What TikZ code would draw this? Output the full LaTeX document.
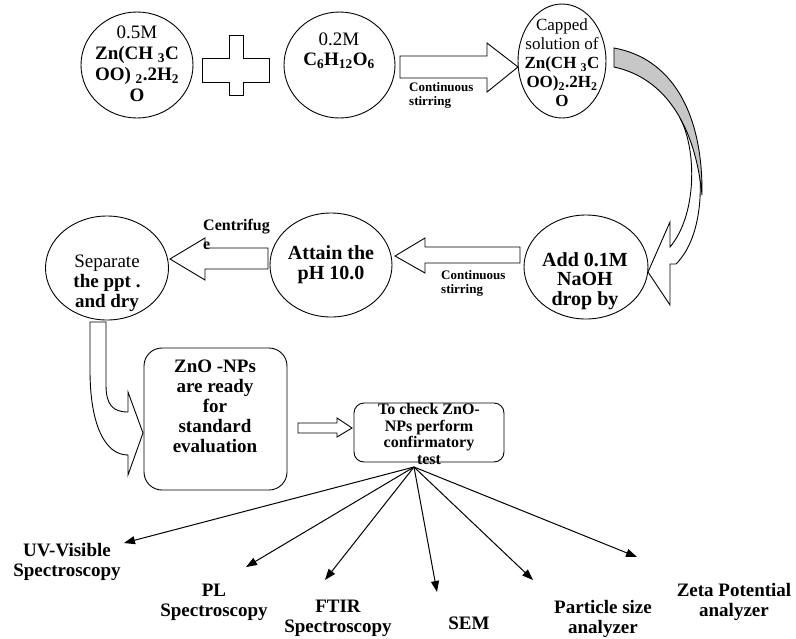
\documentclass[tikz,border=0pt]{standalone}
\usepackage{fontspec}
\setmainfont{Liberation Serif}
\usetikzlibrary{shapes.geometric, arrows.meta}
\begin{document}
\begin{tikzpicture}[x=1pt,y=-1pt,
  bubble/.style={ellipse, draw, line width=0.9pt, inner sep=0pt},
  roundbox/.style={draw, line width=0.9pt, inner sep=0pt},
  blockarrow/.style={draw, fill=white, line width=0.9pt, line join=miter},
  grayface/.style={draw, fill=black!22, line width=0.9pt},
  txtA/.style={align=center, inner sep=0pt, font=\fontsize{19}{21}\selectfont},
  txtB/.style={align=center, inner sep=0pt, font=\fontsize{17}{19}\selectfont},
  txtC/.style={align=center, inner sep=0pt, font=\bfseries\fontsize{20}{19.5}\selectfont},
  txtD/.style={align=center, inner sep=0pt, font=\bfseries\fontsize{16}{16.5}\selectfont},
  small/.style={align=left, inner sep=0pt, font=\bfseries\fontsize{13}{14}\selectfont},
  lab/.style={align=center, inner sep=0pt, font=\bfseries\fontsize{19}{20}\selectfont},
  fanarrow/.style={-{Triangle[length=11pt,width=8pt]}, line width=1pt}
]
\path[use as bounding box, fill=white] (0,0) rectangle (796,638);

% ---------- row 1 ----------
\node[bubble, minimum width=112pt, minimum height=106pt] (c1) at (137,65) {};
\node[txtA] (t1) at (137,64) {0.5M\\\textbf{Zn(CH \textsubscript{3}C}\\\textbf{OO) \textsubscript{2}.2H\textsubscript{2}}\\\textbf{O}};

\draw[blockarrow] (229,35) -- (243,35) -- (243,58) -- (269,58) -- (269,82) -- (243,82) -- (243,95)
  -- (229,95) -- (229,82) -- (202,82) -- (202,58) -- (229,58) -- cycle;

\node[bubble, minimum width=111pt, minimum height=106pt] (c2) at (339.5,65) {};
\node[txtA, font=\fontsize{19}{20}\selectfont] (t2) at (339,51) {0.2M\\\textbf{C\textsubscript{6}H\textsubscript{12}O\textsubscript{6}}};

\draw[blockarrow] (400,56) -- (487,56) -- (487,43) -- (518,67) -- (487,92) -- (487,78) -- (400,78) -- cycle;
\node[small, anchor=west] (s1) at (409,95) {Continuous\\stirring};

\node[bubble, minimum width=88pt, minimum height=114pt] (c3) at (562,61) {};
\node[txtB] (t3) at (562,63) {Capped\\solution of\\\textbf{Zn(CH \textsubscript{3}C}\\\textbf{OO)\textsubscript{2}.2H\textsubscript{2}}\\\textbf{O}};

% ---------- curved gray arrow ----------
\path[fill=white] (695,140) .. controls (706,190) and (700,240) .. (676,264) -- (670,264) -- (670,305)
  -- (648,272) -- (670,222) -- (670,247) .. controls (697,215) and (697,150) .. (680,118) -- cycle;
\draw[line width=0.9pt, line join=miter] (695,140) .. controls (706,190) and (700,240) .. (676,264) -- (670,264) -- (670,305)
  -- (648,272) -- (670,222) -- (670,247) .. controls (697,215) and (697,150) .. (680,118);
\draw[grayface] (614,48) .. controls (670,58) and (703,110) .. (702,195)
  .. controls (695,125) and (665,78) .. (614,67) -- cycle;

% ---------- row 2 ----------
\node[bubble, minimum width=124pt, minimum height=104pt] (c4) at (586,267) {};
\node[txtC] (t4) at (585,281) {Add 0.1M\\NaOH\\drop by};

\draw[blockarrow] (520,247) -- (425,247) -- (425,238) -- (395,256) -- (425,273) -- (425,263) -- (520,263) -- cycle;
\node[small, anchor=west] (s2) at (441,283) {Continuous\\stirring};

\node[bubble, minimum width=122pt, minimum height=104pt] (c5) at (331,265) {};
\node[txtC, font=\bfseries\fontsize{20}{20}\selectfont] (t5) at (331,265) {Attain the\\pH 10.0};

\draw[blockarrow] (268,248) -- (205,248) -- (205,238) -- (170,259) -- (205,280) -- (205,269) -- (268,269) -- cycle;
\node[small, font=\bfseries\fontsize{16}{19}\selectfont, anchor=west] (s3) at (203,234) {Centrifug\\e};

\node[bubble, minimum width=123pt, minimum height=104pt] (c6) at (107,268) {};
\node[txtA, font=\fontsize{19}{20}\selectfont] (t6) at (107,283) {Separate\\\textbf{the ppt .}\\\textbf{and dry}};

% ---------- U-turn arrow ----------
\draw[blockarrow] (90,322) -- (106,322) -- (106,385) .. controls (106,405) and (113,412) .. (128,412)
  -- (128,392) -- (143,433) -- (128,475) -- (128,455) .. controls (105,455) and (90,425) .. (90,370) -- cycle;

% ---------- row 3 ----------
\node[roundbox, rounded corners=18pt, minimum width=143pt, minimum height=142pt] (zno) at (215.5,419) {};
\node[lab] (t7) at (215,406) {ZnO -NPs\\are ready\\for\\standard\\evaluation};

\draw[blockarrow] (298,423) -- (337,423) -- (337,418) -- (352,428) -- (337,437) -- (337,433) -- (298,433) -- cycle;

\node[roundbox, rounded corners=10pt, minimum width=150pt, minimum height=59pt] (chk) at (429,432.5) {};
\node[txtD] (t8) at (429,434) {To check ZnO-\\NPs perform\\confirmatory\\test};

% ---------- fan ----------
\coordinate (fan) at (414,467);
\coordinate (uvtip) at (124,543);
\coordinate (pltip) at (246,567);
\coordinate (fttip) at (325,580);
\coordinate (setip) at (437,592);
\coordinate (pstip) at (533,580);
\coordinate (zptip) at (637,557);
\draw[fanarrow] (fan) -- (uvtip);
\draw[fanarrow] (fan) -- (pltip);
\draw[fanarrow] (fan) -- (fttip);
\draw[fanarrow] (fan) -- (setip);
\draw[fanarrow] (fan) -- (pstip);
\draw[fanarrow] (fan) -- (zptip);

\node[lab] (uv) at (67,562) {UV-Visible\\Spectroscopy};
\node[lab] (pl) at (214,602) {PL\\Spectroscopy};
\node[lab] (ft) at (338,618) {FTIR\\Spectroscopy};
\node[lab] (se) at (469,623) {SEM};
\node[lab] (ps) at (603,619) {Particle size\\analyzer};
\node[lab] (zp) at (734,602) {Zeta Potential\\analyzer};
\end{tikzpicture}
\end{document}
